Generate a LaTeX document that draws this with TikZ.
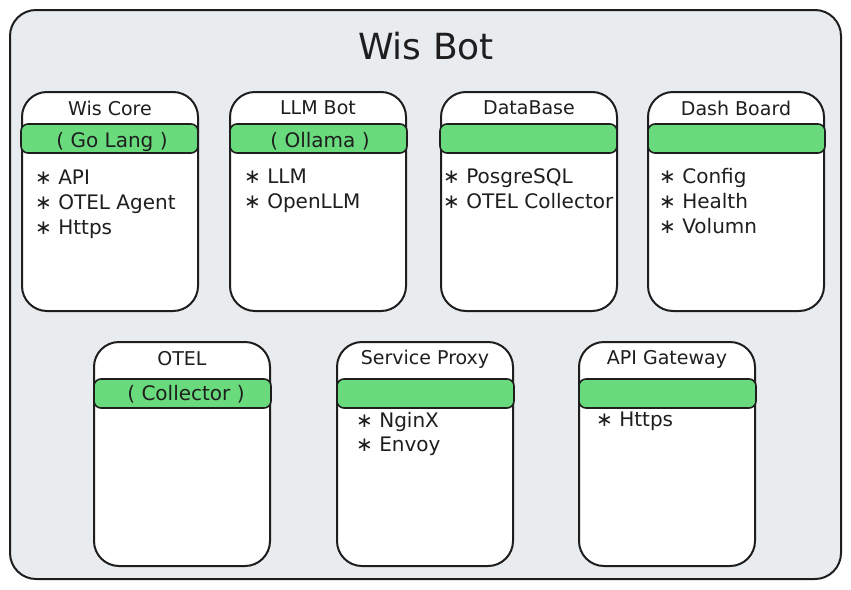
\documentclass[tikz,border=0pt]{standalone}
\usepackage{fontspec}
\setmainfont{DejaVu Sans}
\definecolor{panelgray}{HTML}{E9ECEF}
\definecolor{bandgreen}{HTML}{69DB7C}
\definecolor{ink}{HTML}{1E1E1E}
\begin{document}
\begin{tikzpicture}[x=1pt,y=-1pt,
  frame/.style={draw=ink,line width=2pt,fill=panelgray,rounded corners=26pt,anchor=north west,inner sep=0pt,outer sep=0pt},
  card/.style={draw=ink,line width=2pt,fill=white,rounded corners=25pt,anchor=north west,inner sep=0pt,outer sep=0pt,minimum width=176pt},
  toprow/.style={minimum height=219pt},
  botrow/.style={minimum height=224pt},
  band/.style={draw=ink,line width=1.6pt,fill=bandgreen,rounded corners=7pt,anchor=north west,inner sep=0pt,outer sep=0pt,minimum width=177pt,minimum height=29pt},
  title/.style={font=\fontsize{19}{23}\selectfont,text=ink,inner sep=0pt},
  tag/.style={font=\fontsize{20}{24}\selectfont,text=ink,inner sep=0pt,anchor=mid},
  item/.style={font=\fontsize{20}{24}\selectfont,text=ink,anchor=mid west,inner sep=0pt},
  bigtitle/.style={font=\fontsize{36}{43}\selectfont,text=ink,inner sep=0pt}
]
\useasboundingbox (0,0) rectangle (851,589);
\node[frame,minimum width=831pt,minimum height=569pt] (frame) at (10,10) {};
\node[bigtitle] (wisbot) at (426,46) {Wis Bot};

% ---- top row ----
\node[card,toprow] (core) at (22,92) {};
\node[band] (coreband) at (21,124) {};
\node[title] (coretitle) at (110,108) {Wis Core};
\node[tag] (coretag) at (112,145) {( Go Lang )};
\node[item] (core1) at (35,182) {∗ API};
\node[item] (core2) at (35,207) {∗ OTEL Agent};
\node[item] (core3) at (35,232) {∗ Https};

\node[card,toprow] (llm) at (230,92) {};
\node[band] (llmband) at (230,124) {};
\node[title] (llmtitle) at (318,108) {LLM Bot};
\node[tag] (llmtag) at (320,145) {( Ollama )};
\node[item] (llm1) at (244,181) {∗ LLM};
\node[item] (llm2) at (244,206) {∗ OpenLLM};

\node[card,toprow] (db) at (441,92) {};
\node[band] (dbband) at (440,124) {};
\node[title] (dbtitle) at (529,108) {DataBase};
\node[item] (db1) at (443,181) {∗ PosgreSQL};
\node[item] (db2) at (443,206) {∗ OTEL Collector};

\node[card,toprow] (dash) at (648,92) {};
\node[band] (dashband) at (648,124) {};
\node[title] (dashtitle) at (736,108) {Dash Board};
\node[item] (dash1) at (659,181) {∗ Config};
\node[item] (dash2) at (659,206) {∗ Health};
\node[item] (dash3) at (659,231) {∗ Volumn};

% ---- bottom row ----
\node[card,botrow] (otel) at (94,342) {};
\node[band] (otelband) at (94,379) {};
\node[title] (oteltitle) at (182,359) {OTEL};
\node[tag] (oteltag) at (186,398) {( Collector )};

\node[card,botrow] (proxy) at (337,342) {};
\node[band] (proxyband) at (337,379) {};
\node[title] (proxytitle) at (425,359) {Service Proxy};
\node[item] (proxy1) at (356,425) {∗ NginX};
\node[item] (proxy2) at (356,449) {∗ Envoy};

\node[card,botrow] (gate) at (579,342) {};
\node[band] (gateband) at (579,379) {};
\node[title] (gatetitle) at (667,359) {API Gateway};
\node[item] (gate1) at (596,424) {∗ Https};
\end{tikzpicture}
\end{document}
